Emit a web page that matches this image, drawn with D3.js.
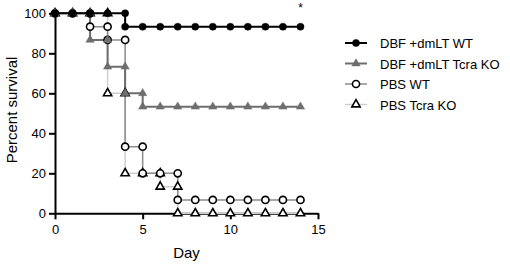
<!DOCTYPE html>
<html>
<head>
<meta charset="utf-8">
<script src="https://cdn.jsdelivr.net/npm/d3@7"></script>
<style>
  body { margin: 0; background: #fff; }
  svg { display: block; font-family: "Liberation Sans", Arial, sans-serif; }
</style>
</head>
<body>
<div id="chart"></div>
<script>
// survival data, one point per recorded day (a day is listed twice where the curve steps down)
var seriesNames = ["DBF +dmLT WT", "DBF +dmLT Tcra KO", "PBS WT", "PBS Tcra KO"];

var dbfWtDays = [0, 1, 2, 3, 4, 4, 5, 6, 7, 8, 9, 10, 11, 12, 13, 14];
var dbfWtPct  = [100, 100, 100, 100, 100, 93.3, 93.3, 93.3, 93.3, 93.3, 93.3, 93.3, 93.3, 93.3, 93.3, 93.3];

var dbfKoDays = [0, 1, 2, 2, 3, 3, 4, 4, 5, 5, 6, 7, 8, 9, 10, 11, 12, 13, 14];
var dbfKoPct  = [100, 100, 100, 86.7, 86.7, 73.3, 73.3, 60, 60, 53.3, 53.3, 53.3, 53.3, 53.3, 53.3, 53.3, 53.3, 53.3, 53.3];

var pbsWtDays = [0, 1, 2, 2, 3, 3, 4, 4, 5, 5, 6, 7, 7, 8, 9, 10, 11, 12, 13, 14];
var pbsWtPct  = [100, 100, 100, 93.3, 93.3, 86.7, 86.7, 33.3, 33.3, 20, 20, 20, 6.7, 6.7, 6.7, 6.7, 6.7, 6.7, 6.7, 6.7];

var pbsKoDays = [0, 1, 2, 3, 3, 4, 4, 5, 6, 6, 7, 7, 8, 9, 10, 11, 12, 13, 14];
var pbsKoPct  = [100, 100, 100, 100, 60, 60, 20, 20, 20, 13.3, 13.3, 0, 0, 0, 0, 0, 0, 0, 0];

var xTicks = [0, 5, 10, 15];
var yTicks = [0, 20, 40, 60, 80, 100];

var width = 510, height = 264;

var svg = d3.select("#chart").append("svg")
    .attr("width", width)
    .attr("height", height);

var x = d3.scaleLinear().domain([0, 15]).range([55, 318]);
var y = d3.scaleLinear().domain([0, 100]).range([213.3, 13.3]);

function pts(days, pct) {
  return days.map(function(d, i) { return [d, pct[i]]; });
}

var series = [
  {name: seriesNames[0], data: pts(dbfWtDays, dbfWtPct), line: "#000", lw: 2, marker: "circle", fill: "#000", stroke: "#000"},
  {name: seriesNames[1], data: pts(dbfKoDays, dbfKoPct), line: "#6e6e6e", lw: 2, marker: "triangle", fill: "#6e6e6e", stroke: "#6e6e6e"},
  {name: seriesNames[2], data: pts(pbsWtDays, pbsWtPct), line: "#8c8c8c", lw: 1.5, marker: "circle", fill: "#fff", stroke: "#000"},
  {name: seriesNames[3], data: pts(pbsKoDays, pbsKoPct), line: "#cfcfcf", lw: 1.5, marker: "triangle", fill: "#fff", stroke: "#000"}
];

// axes
var yAxis = svg.append("g")
    .attr("transform", "translate(" + x(0) + ",0)")
    .call(d3.axisLeft(y).tickValues(yTicks).tickSize(6).tickPadding(3).tickSizeOuter(0));
var xAxis = svg.append("g")
    .attr("transform", "translate(0," + y(0) + ")")
    .call(d3.axisBottom(x).tickValues(xTicks).tickSize(6).tickPadding(5).tickSizeOuter(0));

[xAxis, yAxis].forEach(function(a) {
  a.select(".domain").attr("stroke", "#000").attr("stroke-width", 2);
  a.selectAll(".tick line").attr("stroke", "#000").attr("stroke-width", 2);
  a.selectAll(".tick text")
    .attr("fill", "#000")
    .style("font-size", "13px")
    .style("font-family", "Liberation Sans, Arial, sans-serif");
});

svg.append("text")
    .attr("x", x(7.5))
    .attr("y", 258)
    .attr("text-anchor", "middle")
    .style("font-size", "15px")
    .text("Day");

svg.append("text")
    .attr("transform", "translate(17," + 110 + ") rotate(-90)")
    .attr("text-anchor", "middle")
    .style("font-size", "15px")
    .text("Percent survival");

// lines (step after), the lighter ones underneath
var line = d3.line()
    .x(function(d) { return x(d[0]); })
    .y(function(d) { return y(d[1]); })
    .curve(d3.curveStepAfter);

[series[3], series[2], series[1], series[0]].forEach(function(s) {
  svg.append("path")
    .datum(s.data)
    .attr("fill", "none")
    .attr("stroke", s.line)
    .attr("stroke-width", s.lw)
    .attr("d", line);
});

var circleSym = d3.symbol().type(d3.symbolCircle).size(40);
var triSym = d3.symbol().type(d3.symbolTriangle).size(30);

function drawMarkers(g, s, data) {
  g.selectAll("path.m")
    .data(data)
    .enter()
    .append("path")
      .attr("class", "m")
      .attr("transform", function(d) { return "translate(" + x(d[0]) + "," + y(d[1]) + ")"; })
      .attr("d", s.marker == "circle" ? circleSym : triSym)
      .attr("fill", s.fill)
      .attr("stroke", s.stroke)
      .attr("stroke-width", s.fill == "#fff" ? 1.6 : 0.5);
}

// markers, drawn after all lines; filled black circles on top
[series[3], series[2], series[1], series[0]].forEach(function(s) {
  drawMarkers(svg.append("g"), s, s.data);
});

// significance mark
svg.append("text")
    .attr("x", x(14))
    .attr("y", 12)
    .attr("text-anchor", "middle")
    .style("font-size", "12px")
    .text("*");

// legend
var legend = svg.append("g");
series.forEach(function(s, i) {
  var ly = 43 + i * 20.5;
  var g = legend.append("g");
  g.append("line")
    .attr("x1", 345).attr("x2", 367)
    .attr("y1", ly).attr("y2", ly)
    .attr("stroke", s.line)
    .attr("stroke-width", s.lw);
  g.append("path")
    .attr("transform", "translate(356," + ly + ")")
    .attr("d", s.marker == "circle" ? circleSym : triSym)
    .attr("fill", s.fill)
    .attr("stroke", s.stroke)
    .attr("stroke-width", s.fill == "#fff" ? 1.6 : 0.5);
  g.append("text")
    .attr("x", 380)
    .attr("y", ly + 5)
    .style("font-size", "13px")
    .text(s.name);
});
</script>
</body>
</html>
